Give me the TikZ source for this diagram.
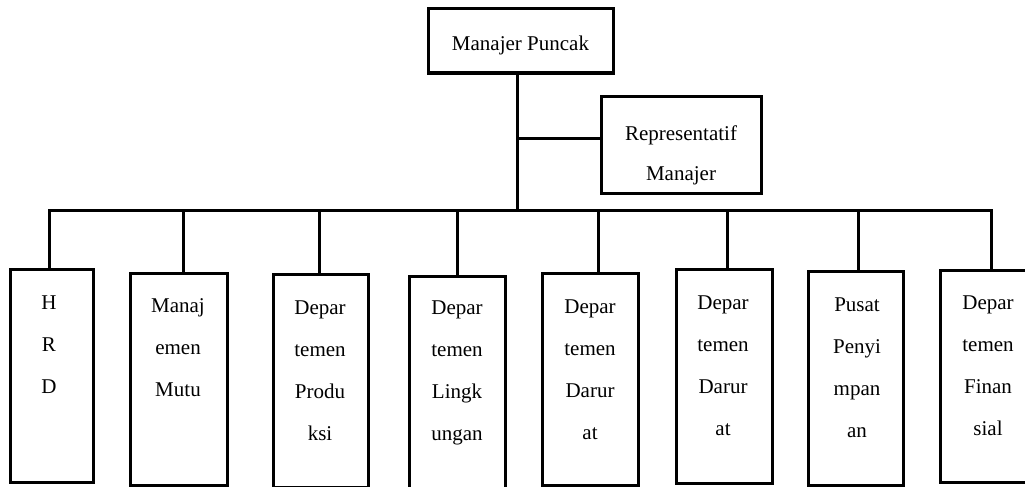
\documentclass[tikz,border=0pt]{standalone}
\usepackage{fontspec}
\setmainfont{Liberation Serif}
\begin{document}
\begin{tikzpicture}[x=1pt,y=-1pt,
  boxstyle/.style={draw=black,line width=3pt,inner sep=0pt},
  linkstyle/.style={draw=black,line width=3pt},
  txt/.style={font=\fontsize{21}{42}\selectfont,align=center,inner sep=0pt,anchor=north},
  txtr/.style={font=\fontsize{21}{40}\selectfont,align=center,inner sep=0pt,anchor=north}]
\useasboundingbox (0,0) rectangle (1025,487);
\fill[white] (0,0) rectangle (1025,487);
% top boxes
\node[boxstyle,minimum width=185pt,minimum height=64pt] (top) at (520.5,41) {};
\node[txt] (toptxt) at (520.5,36) {Manajer Puncak};
\node[boxstyle,minimum width=160pt,minimum height=97pt] (rep) at (681,144.5) {};
\node[txtr] (reptxt) at (681,126) {Representatif\\Manajer};
% bottom boxes
\node[boxstyle,minimum width=83pt,minimum height=213pt] (b1) at (51.5,375.5) {};
\node[boxstyle,minimum width=97pt,minimum height=212pt] (b2) at (178.5,379) {};
\node[boxstyle,minimum width=95pt,minimum height=213pt] (b3) at (320.5,380.5) {};
\node[boxstyle,minimum width=96pt,minimum height=214pt] (b4) at (457,383) {};
\node[boxstyle,minimum width=96pt,minimum height=212pt] (b5) at (590,379) {};
\node[boxstyle,minimum width=96pt,minimum height=214pt] (b6) at (724,376) {};
\node[boxstyle,minimum width=95pt,minimum height=214pt] (b7) at (855.5,378) {};
\node[boxstyle,minimum width=96pt,minimum height=212pt] (b8) at (988,376) {};
% texts
\node[txt] (t1) at (49,296) {H\\R\\D};
\node[txt] (t2) at (178,298) {Manaj\\emen\\Mutu};
\node[txt] (t3) at (320,301) {Depar\\temen\\Produ\\ksi};
\node[txt] (t4) at (457,301) {Depar\\temen\\Lingk\\ungan};
\node[txt] (t5) at (590,300) {Depar\\temen\\Darur\\at};
\node[txt] (t6) at (723,296) {Depar\\temen\\Darur\\at};
\node[txt] (t7) at (857,298) {Pusat\\Penyi\\mpan\\an};
\node[txt] (t8) at (988,296) {Depar\\temen\\Finan\\sial};
% connector coordinates
\coordinate (trunk) at (517,210);
\coordinate (branch) at (517,138);
\coordinate (d1) at (49,210);
\coordinate (d2) at (183,210);
\coordinate (d3) at (319,210);
\coordinate (d4) at (457,210);
\coordinate (d5) at (598,210);
\coordinate (d6) at (727,210);
\coordinate (d7) at (858,210);
\coordinate (d8) at (991,210);
% connectors
\draw[linkstyle] (top.south -| trunk) -- (trunk);
\draw[linkstyle] (branch) -- (branch -| rep.west);
\draw[linkstyle,line cap=rect] (d1) -- (d8);
\draw[linkstyle] (d1) -- (d1 |- b1.north);
\draw[linkstyle] (d2) -- (d2 |- b2.north);
\draw[linkstyle] (d3) -- (d3 |- b3.north);
\draw[linkstyle] (d4) -- (d4 |- b4.north);
\draw[linkstyle] (d5) -- (d5 |- b5.north);
\draw[linkstyle] (d6) -- (d6 |- b6.north);
\draw[linkstyle] (d7) -- (d7 |- b7.north);
\draw[linkstyle] (d8) -- (d8 |- b8.north);
\end{tikzpicture}
\end{document}
